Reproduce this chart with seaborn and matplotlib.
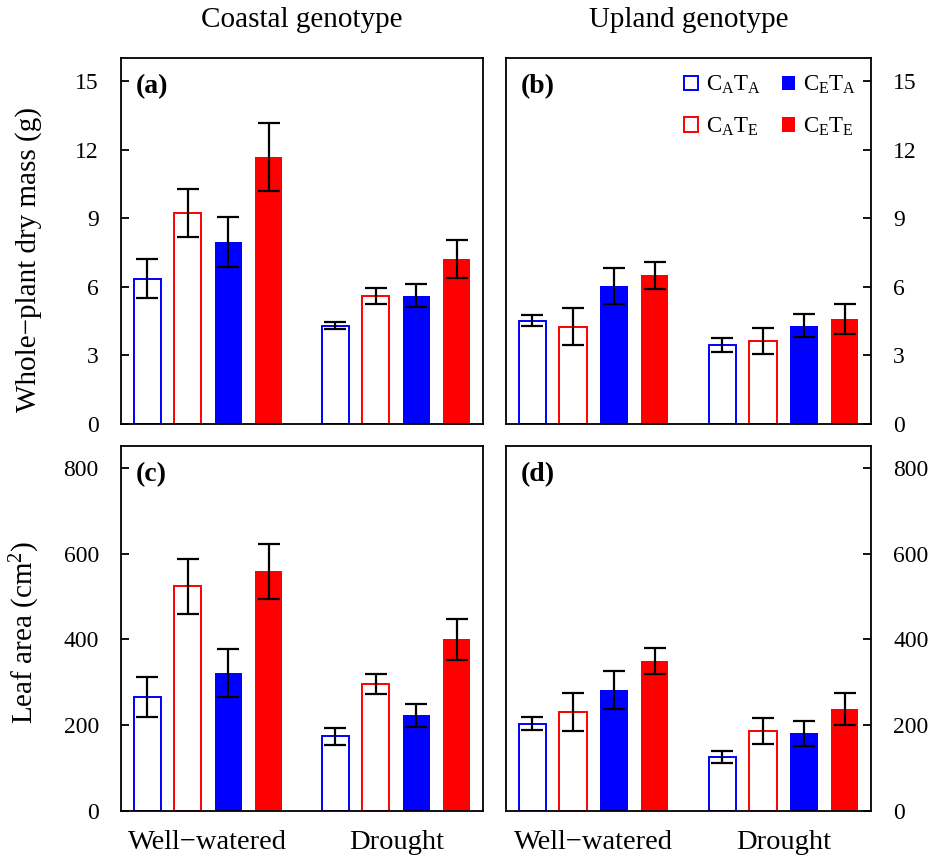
import numpy as np
import pandas as pd
import matplotlib
matplotlib.use("Agg")
import matplotlib.pyplot as plt
import seaborn as sns

# ---------------- data ----------------
conditions = ["Well\u2212watered", "Drought"]
treatments = ["CATA", "CATE", "CETA", "CETE"]
treat_labels = [r"C$_\mathrm{A}$T$_\mathrm{A}$", r"C$_\mathrm{A}$T$_\mathrm{E}$",
                r"C$_\mathrm{E}$T$_\mathrm{A}$", r"C$_\mathrm{E}$T$_\mathrm{E}$"]
treat_colors = ["#0000ff", "#ff0000", "#0000ff", "#ff0000"]
treat_filled = [False, False, True, True]

# values per treatment: [Well-watered, Drought]
mass_coastal = {"CATA": [6.35, 4.30], "CATE": [9.21, 5.61], "CETA": [7.96, 5.60], "CETE": [11.68, 7.21]}
mass_coastal_se = {"CATA": [0.85, 0.16], "CATE": [1.05, 0.35], "CETA": [1.10, 0.50], "CETE": [1.50, 0.82]}
mass_upland = {"CATA": [4.52, 3.47], "CATE": [4.26, 3.63], "CETA": [6.03, 4.29], "CETE": [6.51, 4.59]}
mass_upland_se = {"CATA": [0.23, 0.31], "CATE": [0.80, 0.55], "CETA": [0.80, 0.50], "CETE": [0.59, 0.67]}
leaf_coastal = {"CATA": [266, 174], "CATE": [524, 296], "CETA": [321, 223], "CETE": [559, 400]}
leaf_coastal_se = {"CATA": [46, 19], "CATE": [64, 24], "CETA": [56, 27], "CETE": [64, 48]}
leaf_upland = {"CATA": [204, 126], "CATE": [230, 187], "CETA": [282, 181], "CETE": [350, 238]}
leaf_upland_se = {"CATA": [14, 14], "CATE": [44, 30], "CETA": [44, 29], "CETE": [31, 38]}

mass_ticks = [0, 3, 6, 9, 12, 15]
leaf_ticks = [0, 200, 400, 600, 800]

# ---------------- style ----------------
sns.set_theme(style="white")
plt.rcParams["font.family"] = ["Liberation Serif", "DejaVu Serif"]
plt.rcParams["mathtext.fontset"] = "custom"
plt.rcParams["mathtext.rm"] = "Liberation Serif"
plt.rcParams["mathtext.it"] = "Liberation Serif:italic"
plt.rcParams["mathtext.bf"] = "Liberation Serif:bold"
for key in ["text.color", "axes.labelcolor", "xtick.color", "ytick.color", "axes.edgecolor"]:
    plt.rcParams[key] = "black"

fig = plt.figure(figsize=(9.34, 8.6), dpi=100)

L1, R1 = 121 / 934, 483 / 934
L2, R2 = 506 / 934, 871 / 934
T1, B1 = 1 - 58 / 860, 1 - 424 / 860
T2, B2 = 1 - 446 / 860, 1 - 811 / 860

axes_spec = [
    ("a", mass_coastal, mass_coastal_se, (L1, B1, R1 - L1, T1 - B1), "left", False, (0, 16), mass_ticks),
    ("b", mass_upland, mass_upland_se, (L2, B1, R2 - L2, T1 - B1), "right", False, (0, 16), mass_ticks),
    ("c", leaf_coastal, leaf_coastal_se, (L1, B2, R1 - L1, T2 - B2), "left", True, (0, 851), leaf_ticks),
    ("d", leaf_upland, leaf_upland_se, (L2, B2, R2 - L2, T2 - B2), "right", True, (0, 851), leaf_ticks),
]

TICK_FS = 17
XT_FS = 20.5
TITLE_FS = 21
YL_FS = 21
axes = {}
for tag, vals, ses, rect, yside, xlab, ylim, yticks in axes_spec:
    ax = fig.add_axes(rect)
    rows = []
    for t in treatments:
        for ci, c in enumerate(conditions):
            rows.append({"cond": c, "treat": t, "val": vals[t][ci], "se": ses[t][ci]})
    df = pd.DataFrame(rows)
    sns.barplot(data=df, x="cond", y="val", hue="treat", order=conditions,
                hue_order=treatments, palette=treat_colors, width=0.86, gap=0.33,
                errorbar=None, legend=False, saturation=1, ax=ax)
    bar_conts = list(ax.containers)
    for k, cont in enumerate(bar_conts):
        for p in cont.patches:
            if treat_filled[k]:
                p.set_facecolor(treat_colors[k])
                p.set_edgecolor("none")
                p.set_linewidth(0)
            else:
                p.set_facecolor("white")
                p.set_edgecolor(treat_colors[k])
                p.set_linewidth(1.4)
    # error bars at bar centres
    centres = [[p.get_x() + p.get_width() / 2 for p in cont.patches] for cont in bar_conts]
    for k, t in enumerate(treatments):
        ax.errorbar(centres[k], vals[t], yerr=ses[t], fmt="none", ecolor="black",
                    elinewidth=1.6, capsize=8, capthick=1.6, zorder=5)
    ax.set_xlim(-0.461, 1.461)
    ax.set_ylim(*ylim)
    ax.set_yticks(yticks)
    ax.set_xlabel("")
    ax.set_ylabel("")
    for s in ax.spines.values():
        s.set_visible(True)
        s.set_color("black")
        s.set_linewidth(1.3)
    ax.tick_params(axis="y", direction="in", length=6, width=1.3, labelsize=TICK_FS,
                   left=(yside == "left"), right=(yside == "right"),
                   labelleft=(yside == "left"), labelright=(yside == "right"), pad=16)
    ax.tick_params(axis="x", length=0, labelsize=XT_FS, pad=14, labelbottom=xlab)
    if not xlab:
        ax.set_xticklabels([])
    ax.text(0.04, 0.955, f"({tag})", transform=ax.transAxes, fontsize=20,
            fontweight="bold", va="top", ha="left")
    axes[tag] = ax
    axes[tag + "_bars"] = bar_conts

axes["a"].set_title("Coastal genotype", fontsize=TITLE_FS, pad=22)
axes["b"].set_title("Upland genotype", fontsize=TITLE_FS, pad=22)
axes["a"].set_ylabel("Whole\u2212plant dry mass (g)", fontsize=YL_FS)
axes["c"].set_ylabel(r"Leaf area (cm$^2$)", fontsize=YL_FS)
axes["a"].yaxis.set_label_coords(-0.218, 0.45)
axes["c"].yaxis.set_label_coords(-0.218, 0.49)

axb = axes["b"]
handles = [axes["b_bars"][k].patches[0] for k in range(4)]
axb.legend(handles, treat_labels, ncol=2, loc="upper right", frameon=False,
           fontsize=16.5, handlelength=0.6, handleheight=0.6, handletextpad=0.35,
           columnspacing=0.9, labelspacing=0.85, borderaxespad=0.3,
           bbox_to_anchor=(1.005, 1.0))

fig.savefig("out.png", dpi=100)
